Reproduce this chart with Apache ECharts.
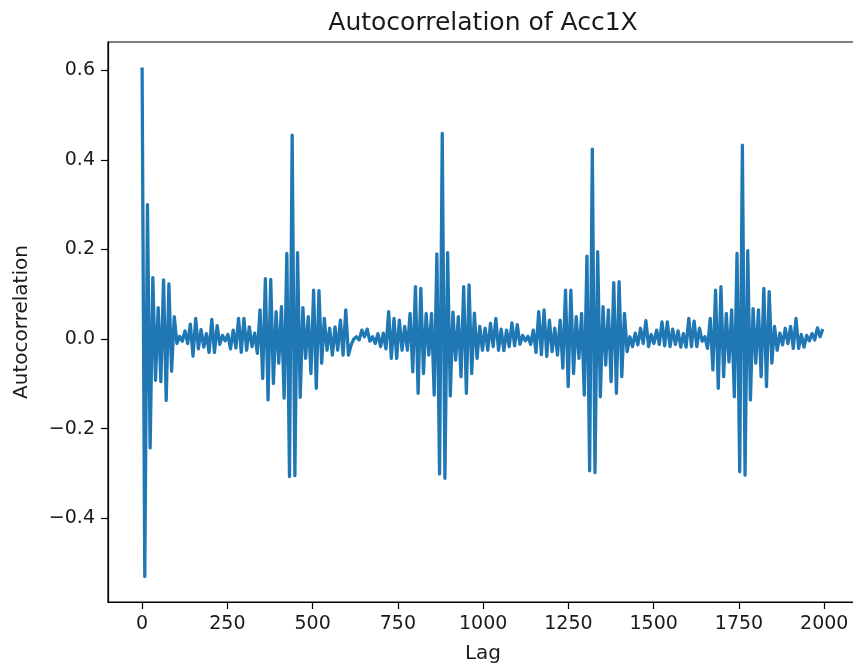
<!DOCTYPE html>
<html>
<head>
<meta charset="utf-8">
<script src="https://cdn.jsdelivr.net/npm/echarts@6/dist/echarts.min.js"></script>
<style>
html,body{margin:0;padding:0;background:#fff;}
#chart{width:853px;height:664px;}
</style>
</head>
<body>
<div id="chart"></div>
<script>
// Lag spacing between successive read-off extremes (56 half-periods per 440 lags)
const lagStep = 440 / 56;

// Autocorrelation extremes, segment by segment
const burst0 = [0.606,-0.530,0.300,-0.243,0.137,-0.092,0.070,-0.095,0.132,-0.137,0.123,-0.072,
  0.050,-0.010,0.006,-0.005,0.018,-0.010,0.033,-0.038,0.046,-0.022,0.021,-0.018,0.012,-0.030,
  0.044,-0.030,0.030,-0.012,0.008,-0.004,0.010,-0.022,0.020];
const burst440 = [-0.020,0.046,-0.030,0.046,-0.025,0.027,-0.017,0.013,-0.032,0.065,-0.088,0.135,
  -0.136,0.133,-0.099,0.061,-0.054,0.072,-0.132,0.191,-0.307,0.455,-0.305,0.193,-0.130,0.070,
  -0.043,0.050,-0.077,0.109,-0.110,0.108,-0.054,0.046,-0.025,0.024,-0.036,0.027,-0.025,0.042,
  -0.036,0.065,-0.036];
const gap1 = [-0.013,0.000,0.005,-0.002,0.020,0.005,0.022,-0.005,0.005,-0.010,0.012,-0.017,0.013];
const burst880 = [-0.022,0.061,-0.043,0.046,-0.043,0.042,-0.025,0.028,-0.025,0.057,-0.073,0.117,
  -0.121,0.113,-0.077,0.057,-0.036,0.057,-0.125,0.190,-0.301,0.459,-0.311,0.193,-0.127,0.060,
  -0.047,0.050,-0.084,0.117,-0.121,0.121,-0.077,0.058,-0.043,0.028,-0.025,0.024,-0.025,0.035,
  -0.017,0.046,-0.025];
const gap2 = [0.022,-0.026,0.020,-0.017,0.036,-0.015,0.032,-0.012,0.008,-0.004,0.006,-0.012,0.020];
const burst1320 = [-0.030,0.061,-0.035,0.065,-0.039,0.042,-0.028,0.024,-0.036,0.042,-0.065,0.109,
  -0.106,0.109,-0.077,0.050,-0.043,0.057,-0.125,0.185,-0.294,0.424,-0.298,0.195,-0.129,0.072,
  -0.058,0.065,-0.095,0.126,-0.121,0.128,-0.084,0.057,-0.028,0.005,-0.017,0.013,-0.013,0.024,
  -0.010,0.041,-0.017];
const gap3 = [0.010,-0.010,0.020,-0.012,0.038,-0.015,0.038,-0.017,0.022,-0.012,0.018,-0.018,0.012];
const burst1760 = [-0.018,0.046,-0.017,0.040,-0.017,0.024,-0.005,0.005,-0.021,0.046,-0.069,0.109,
  -0.110,0.117,-0.084,0.057,-0.051,0.065,-0.129,0.191,-0.296,0.433,-0.304,0.197,-0.136,0.068,
  -0.054,0.065,-0.084,0.113,-0.106,0.106,-0.054,0.028,-0.025,0.013,-0.013,0.024,-0.010,0.028,
  -0.021,0.046,-0.021];
const tail = [0.010,-0.018,0.008,-0.004,0.012,-0.002,0.025,0.005,0.022];

// Tick labels
const xTicks = [0,250,500,750,1000,1250,1500,1750,2000];
const yTicks = [-0.4,-0.2,0.0,0.2,0.4,0.6];

const acf = [].concat(burst0, burst440, gap1, burst880, gap2, burst1320, gap3, burst1760, tail);
const seriesData = acf.map((v, i) => [i * lagStep, v]);

const FONT = 'DejaVu Sans';
const TXT = '#1a1a1a';
const chart = echarts.init(document.getElementById('chart'), null, {renderer: 'canvas'});
chart.setOption({
  animation: false,
  backgroundColor: '#ffffff',
  title: {
    text: 'Autocorrelation of Acc1X',
    left: 478, top: 6, textAlign: 'center',
    textStyle: {fontFamily: FONT, fontSize: 25, fontWeight: 'normal', color: TXT}
  },
  grid: {left: 108, top: 42, right: -5, bottom: 62, show: true,
         outerBoundsMode: 'none', containLabel: false,
         borderColor: '#000', borderWidth: 1.2, backgroundColor: 'transparent'},
  xAxis: {
    type: 'value', min: -100, max: 2099,
    name: 'Lag', nameLocation: 'middle', nameGap: 42,
    nameTextStyle: {fontFamily: FONT, fontSize: 20, color: TXT},
    axisLine: {show: true, onZero: false, lineStyle: {color: '#000', width: 1.2}},
    axisTick: {show: true, inside: false, length: 7, customValues: xTicks,
               lineStyle: {color: '#000', width: 1.2}},
    axisLabel: {customValues: xTicks, margin: 13, fontFamily: FONT, fontSize: 19, color: TXT,
                formatter: v => String(Math.round(v))},
    splitLine: {show: false}
  },
  yAxis: {
    type: 'value', min: -0.587, max: 0.663,
    name: 'Autocorrelation', nameLocation: 'middle', nameGap: 76, nameRotate: 90,
    nameTextStyle: {fontFamily: FONT, fontSize: 20, color: TXT},
    axisLine: {show: true, onZero: false, lineStyle: {color: '#000', width: 1.2}},
    axisTick: {show: true, inside: false, length: 7, customValues: yTicks,
               lineStyle: {color: '#000', width: 1.2}},
    axisLabel: {customValues: yTicks, margin: 13, fontFamily: FONT, fontSize: 19, color: TXT,
                formatter: v => v.toFixed(1).replace('-', '\u2212')},
    splitLine: {show: false}
  },
  series: [{
    type: 'line', data: seriesData, showSymbol: false, symbol: 'none',
    sampling: null, smooth: false,
    lineStyle: {color: '#1f77b4', width: 3.3, join: 'round'},
    emphasis: {disabled: true}
  }]
});
</script>
</body>
</html>
